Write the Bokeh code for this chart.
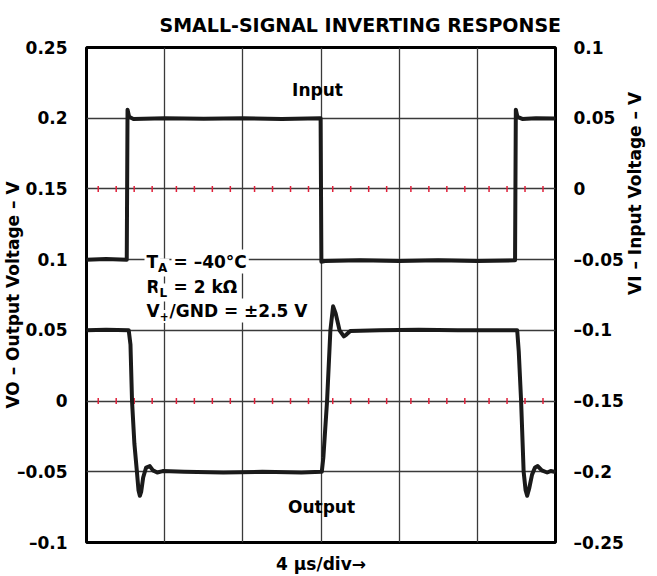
from bokeh.plotting import figure
from bokeh.models import Range1d, LinearAxis, FixedTicker, Label
from bokeh.embed import file_html
from bokeh.resources import INLINE
import math

# ---------------- data ----------------
# time in microseconds (4 us/div, 6 divisions)
t_input = [0, 1.0, 2.06, 2.10, 2.18, 2.4, 4, 6, 8, 10, 11.98, 12.02, 12.2, 14, 16, 18, 20,
           21.93, 21.97, 22.05, 22.3, 23, 24]
v_input = [-0.05, -0.0495, -0.05, 0.056, 0.051, 0.0495, 0.05, 0.0497, 0.05, 0.0495, 0.05,
           -0.0515, -0.051, -0.0505, -0.051, -0.0505, -0.051, -0.0505, 0.056, 0.051, 0.0495,
           0.05, 0.0498]

t_output = [0, 1, 2.16, 2.25, 2.33, 2.45, 2.58, 2.66, 2.73, 2.8, 2.9, 3.05, 3.24, 3.4, 3.62,
            3.9, 5, 7, 9, 11, 12.04, 12.12, 12.31, 12.48, 12.62, 12.75, 12.95, 13.17, 13.3,
            13.5, 15, 17, 19, 21, 22.04, 22.12, 22.24, 22.37, 22.47, 22.55, 22.65, 22.8,
            22.95, 23.09, 23.3, 23.57, 23.75, 24]
v_output = [0.05, 0.0505, 0.05, 0.04, 0.0, -0.03, -0.05, -0.063, -0.067, -0.064, -0.054,
            -0.047, -0.046, -0.049, -0.0505, -0.0495, -0.05, -0.0505, -0.05, -0.0505, -0.05,
            -0.04, 0.0, 0.05, 0.067, 0.062, 0.05, 0.0457, 0.047, 0.0495, 0.05, 0.0505, 0.05,
            0.05, 0.05, 0.035, 0.0, -0.05, -0.063, -0.067, -0.062, -0.052, -0.047, -0.046,
            -0.049, -0.0505, -0.0495, -0.0502]

x_divisions = [0, 4, 8, 12, 16, 20, 24]
left_ticks = [-0.1, -0.05, 0, 0.05, 0.1, 0.15, 0.2, 0.25]
left_labels = ["–0.1", "–0.05", "0", "0.05", "0.1", "0.15", "0.2", "0.25"]
right_ticks = [-0.25, -0.2, -0.15, -0.1, -0.05, 0, 0.05, 0.1]
right_labels = ["–0.25", "–0.2", "–0.15", "–0.1", "–0.05", "0", "0.05", "0.1"]
# red minor marks along the two zero lines (fractions of a division)
minor_fracs = [0.15, 0.38, 0.61, 0.84]
zero_levels_left = [0.15, 0]

TITLE = "SMALL-SIGNAL INVERTING RESPONSE"
X_LABEL = "4 µs/div→"
Y_LABEL = "VO – Output Voltage – V"
Y2_LABEL = "VI – Input Voltage – V"

FONT = "DejaVu Sans"
FS = 17

W, H = 657, 576
FL, FT, FR, FB = 86, 47, 555, 543   # frame edges in picture pixels

p = figure(width=W, height=H, output_backend="svg", toolbar_location=None,
           x_range=Range1d(0, 24), y_range=Range1d(-0.1, 0.25),
           min_border_left=FL, min_border_right=W - FR, min_border_top=FT,
           min_border_bottom=H - FB)
p.extra_y_ranges = {"vi": Range1d(-0.25, 0.1)}

# title
p.title.text = TITLE
p.title.text_font = FONT
p.title.text_font_style = "bold"
p.title.text_font_size = "19px"
p.title.text_color = "black"
p.title.align = "left"
p.title.offset = 73
p.title.vertical_align = "top"
p.title.standoff = 19

# x axis: only its label is shown
xa = p.xaxis[0]
xa.ticker = FixedTicker(ticks=[])
xa.axis_line_color = None
xa.major_tick_line_color = None
xa.minor_tick_line_color = None
xa.axis_label = X_LABEL
xa.axis_label_text_font = FONT
xa.axis_label_text_font_style = "bold"
xa.axis_label_text_font_size = "17px"
xa.axis_label_text_color = "black"
xa.axis_label_standoff = 11

p.xgrid.ticker = FixedTicker(ticks=x_divisions)
p.ygrid.ticker = FixedTicker(ticks=left_ticks)
for g in (p.xgrid, p.ygrid):
    g.grid_line_color = "#3a3a3a"
    g.grid_line_width = 1.3
    g.grid_line_alpha = 1.0

p.outline_line_color = "black"
p.outline_line_width = 3
p.outline_line_alpha = 1.0
p.background_fill_color = "white"
p.border_fill_color = "white"

def style_axis(ax, standoff, label, label_standoff):
    ax.axis_line_color = None
    ax.major_tick_line_color = None
    ax.minor_tick_line_color = None
    ax.major_label_text_font = FONT
    ax.major_label_text_font_style = "bold"
    ax.major_label_text_font_size = f"{FS}px"
    ax.major_label_text_color = "black"
    ax.major_label_standoff = standoff
    ax.axis_label = label
    ax.axis_label_text_font = FONT
    ax.axis_label_text_font_style = "bold"
    ax.axis_label_text_font_size = "17px"
    ax.axis_label_text_color = "black"
    ax.axis_label_standoff = label_standoff

ly = p.yaxis[0]
ly.ticker = FixedTicker(ticks=left_ticks)
ly.major_label_overrides = dict(zip(left_ticks, left_labels))
style_axis(ly, 13, Y_LABEL, -9)

ry = LinearAxis(y_range_name="vi", ticker=FixedTicker(ticks=right_ticks))
ry.major_label_overrides = dict(zip(right_ticks, right_labels))
style_axis(ry, 12, Y2_LABEL, 8)
ry.axis_label_orientation = math.pi / 2
p.add_layout(ry, "right")

# red division marks on the two zero lines
mx, my = [], []
for lvl in zero_levels_left:
    for d in range(len(x_divisions) - 1):
        for f in minor_fracs:
            mx.append(x_divisions[d] + f * (x_divisions[d + 1] - x_divisions[d]))
            my.append(lvl)
p.scatter(mx, my, marker="dash", size=6, angle=math.pi / 2, line_color="#e0203a",
          line_width=1.5)

# waveforms
p.line(t_input, v_input, y_range_name="vi", line_color="#1a1a1a", line_width=4,
       line_join="round")
p.line(t_output, v_output, line_color="#1a1a1a", line_width=4, line_join="round")

# ---- texts inside the frame (positions in picture pixels -> frame screen units) ----
def lab(text, xp, yp, size=17, align="left", base="middle", bg=False):
    l = Label(x=xp - FL, y=FB - yp, x_units="screen", y_units="screen", text=text,
              text_font=FONT, text_font_style="bold", text_font_size=f"{size}px",
              text_align=align, text_baseline=base, text_color="black")
    if bg:
        l.background_fill_color = "white"
        l.background_fill_alpha = 1.0
        l.padding = 2
    p.add_layout(l)

lab("Input", 317, 90, align="center")
lab("Output", 321, 507, align="center")

# annotation block with subscripts
lab("T", 144, 262, bg=True)
lab("A", 155.6, 268, size=12, bg=True)
lab("= –40°C", 171, 262, bg=True)
lab("R", 144, 287, bg=True)
lab("L", 157, 293, size=12, bg=True)
lab("= 2 kΩ", 171, 287, bg=True)
lab("V", 144, 311, bg=True)
lab("+", 157, 317, size=12, bg=True)
lab("/GND = ±2.5 V", 167, 311, bg=True)

open("out.html", "w").write(file_html(p, INLINE))
